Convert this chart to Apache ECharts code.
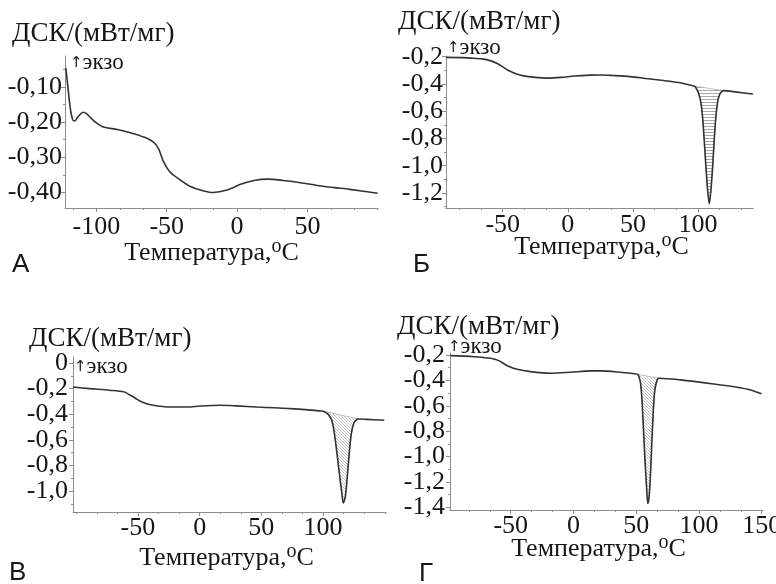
<!DOCTYPE html>
<html><head><meta charset="utf-8">
<script src="https://cdn.jsdelivr.net/npm/echarts@6/dist/echarts.min.js"></script>
<style>html,body{margin:0;padding:0;background:#fff}#c{width:776px;height:584px}</style>
</head><body><div id="c"></div>
<script>
// ---------- Panel А ----------
const tempA = [-121.8, -121.2, -120.0, -118.7, -117.5, -116.2, -115.2, -113.5, -111.0, -109.3, -107.0, -104.5, -100.0, -95.0, -85.0, -74.0, -64.0, -58.5, -55.5, -52.5, -48.0, -40.5, -33.5, -26.0, -17.0, -7.0, 3.0, 12.0, 22.0, 33.0, 45.0, 57.0, 69.0, 80.0, 100.0];
const dscA  = [-0.046, -0.065, -0.109, -0.156, -0.184, -0.196, -0.196, -0.187, -0.176, -0.172, -0.176, -0.186, -0.202, -0.214, -0.221, -0.232, -0.246, -0.260, -0.278, -0.310, -0.340, -0.364, -0.382, -0.393, -0.400, -0.393, -0.376, -0.366, -0.362, -0.366, -0.372, -0.380, -0.386, -0.391, -0.402];
const xTicksA = [-100, -50, 0, 50];
const yTicksA = [-0.10, -0.20, -0.30, -0.40];
const xRangeA = [-122.3, 100.2];
const yRangeA = [-0.444, -0.012];

// ---------- Panel Б ----------
const tempB = [-93.5, -80, -72.6, -65, -59.8, -54.6, -50, -46, -40, -34, -25, -16, -5, 5, 17, 25, 35, 48, 60, 73.5, 85, 94, 96.5, 97.9, 100.5, 102.3, 103.5, 104.8, 106.1, 107.4, 108.7, 110.0, 111.3, 112.5, 113.8, 115.4, 117.2, 119.6, 130, 142.2];
const dscB  = [-0.205, -0.207, -0.212, -0.218, -0.229, -0.248, -0.275, -0.300, -0.325, -0.341, -0.352, -0.357, -0.352, -0.342, -0.335, -0.334, -0.338, -0.346, -0.360, -0.375, -0.390, -0.408, -0.4145, -0.420, -0.468, -0.541, -0.639, -0.810, -1.005, -1.176, -1.278, -1.176, -1.005, -0.810, -0.639, -0.517, -0.468, -0.449, -0.460, -0.474];
const peakB = [96.5, 119.6];
const xTicksB = [-50, 0, 50, 100];
const yTicksB = [-0.2, -0.4, -0.6, -0.8, -1.0, -1.2];
const xRangeB = [-93.6, 142.3];
const yRangeB = [-1.31, -0.195];

// ---------- Panel В ----------
const tempV = [-102.5, -89, -73, -61, -56.5, -52, -48.4, -43, -37.6, -30, -24, -10, 0.4, 16.7, 30, 46.5, 60, 73.6, 88, 98, 100.2, 104.2, 107, 108.8, 111, 112.9, 115.1, 116.4, 118, 119.6, 121.2, 122.9, 125, 127.2, 128.5, 135, 149.6];
const dscV  = [-0.1875, -0.200, -0.213, -0.227, -0.250, -0.275, -0.297, -0.318, -0.330, -0.340, -0.344, -0.344, -0.336, -0.330, -0.335, -0.344, -0.350, -0.356, -0.366, -0.375, -0.377, -0.401, -0.448, -0.526, -0.682, -0.838, -1.008, -1.094, -1.047, -0.891, -0.708, -0.552, -0.469, -0.442, -0.437, -0.440, -0.447];
const peakV = [100.2, 128.5];
const xTicksV = [-50, 0, 50, 100];
const yTicksV = [0, -0.2, -0.4, -0.6, -0.8, -1.0];
const xRangeV = [-102.6, 151];
const yRangeV = [-1.164, 0.047];

// ---------- Panel Г ----------
const tempG = [-98.2, -79.4, -66.1, -59.5, -52.8, -44.9, -34.3, -18.3, -2.4, 13.6, 21.5, 37.5, 49.5, 50.8, 52.0, 53.4, 54.4, 55.5, 56.8, 58.2, 59.2, 60.3, 61.4, 62.4, 63.5, 64.8, 66.7, 68.0, 85.3, 111.8, 130.4, 141.0, 149.8];
const dscG  = [-0.205, -0.213, -0.226, -0.244, -0.284, -0.312, -0.331, -0.344, -0.336, -0.325, -0.325, -0.336, -0.349, -0.351, -0.365, -0.422, -0.527, -0.736, -0.999, -1.235, -1.371, -1.313, -1.129, -0.894, -0.658, -0.475, -0.396, -0.383, -0.396, -0.428, -0.454, -0.475, -0.506];
const peakG = [50.8, 68.0];
const xTicksG = [-50, 0, 50, 100, 150];
const yTicksG = [-0.2, -0.4, -0.6, -0.8, -1.0, -1.2, -1.4];
const xRangeG = [-98.4, 151];
const yRangeG = [-1.422, -0.184];

const yTitle = 'ДСК/(мВт/мг)';
const xTitle = 'Температура,';
const exo = 'экзо';
const letters = ['А', 'Б', 'В', 'Г'];

// ---------- helpers ----------
const SERIF = '"Liberation Serif", "Times New Roman", serif';
const AX = '#8c8c8c';
const INK = '#161616';
function hatch(kind) {
  const c = document.createElement('canvas');
  const ctx = c.getContext('2d');
  if (kind === 'h') {
    c.width = 4; c.height = 3;
    ctx.fillStyle = '#fff'; ctx.fillRect(0, 0, 4, 3);
    ctx.strokeStyle = '#a8a8a8'; ctx.lineWidth = 1;
    ctx.beginPath(); ctx.moveTo(0, 0.5); ctx.lineTo(4, 0.5); ctx.stroke();
  } else {
    c.width = 3; c.height = 3;
    ctx.fillStyle = '#fff'; ctx.fillRect(0, 0, 3, 3);
    ctx.strokeStyle = '#b4b4b4'; ctx.lineWidth = 0.8;
    ctx.beginPath();
    ctx.moveTo(-1, -1); ctx.lineTo(4, 4);
    ctx.moveTo(-1, 2); ctx.lineTo(1, 4);
    ctx.moveTo(2, -1); ctx.lineTo(4, 1);
    ctx.stroke();
  }
  return { image: c, repeat: 'repeat' };
}
function minorVals(range, step) {
  const out = [];
  const start = Math.ceil(range[0] / step - 1e-9);
  for (let k = start; k * step <= range[1] + 1e-9; k++) out.push(+(k * step).toFixed(6));
  return out;
}
const fmtX = v => String(Math.round(v));
const fmtY1 = v => (Math.abs(v) < 1e-9 ? '0' : v.toFixed(1).replace('.', ','));
const fmtY2 = v => v.toFixed(2).replace('.', ',');

const panels = [
  { t: tempA, v: dscA, peak: null, xr: xRangeA, yr: yRangeA, xt: xTicksA, yt: yTicksA, fy: fmtY2, ystep: 0.05,
    grid: { left: 65, top: 56, width: 313, height: 152 }, xm: 6, ym: 3 },
  { t: tempB, v: dscB, peak: peakB, pat: 'h', xr: xRangeB, yr: yRangeB, xt: xTicksB, yt: yTicksB, fy: fmtY1, ystep: 0.1,
    grid: { left: 446, top: 56, width: 307, height: 152 }, xm: 4, ym: 3 },
  { t: tempV, v: dscV, peak: peakV, pat: 'd', xr: xRangeV, yr: yRangeV, xt: xTicksV, yt: yTicksV, fy: fmtY1, ystep: 0.1,
    grid: { left: 73, top: 357, width: 313, height: 155 }, xm: 3, ym: 5 },
  { t: tempG, v: dscG, peak: peakG, pat: 'd', xr: xRangeG, yr: yRangeG, xt: xTicksG, yt: yTicksG, fy: fmtY1, ystep: 0.1,
    grid: { left: 450, top: 353, width: 313, height: 157 }, xm: 3, ym: 5 }
];

const grids = [], xAxes = [], yAxes = [], series = [];
panels.forEach((p, i) => {
  grids.push(Object.assign({ outerBoundsMode: 'none', containLabel: false }, p.grid));
  const labelStyle = { fontFamily: SERIF, fontSize: 26, lineHeight: 20, color: INK,
    showMinLabel: true, showMaxLabel: true, hideOverlap: false };
  // y labels are split over two coincident axes so neighbouring labels never collide in the overlap check
  const yEven = p.yt.filter((_, k) => k % 2 === 0);
  const yOdd = p.yt.filter((_, k) => k % 2 === 1);
  xAxes.push({
    type: 'value', gridIndex: i, min: p.xr[0], max: p.xr[1], position: 'bottom',
    axisLine: { show: true, onZero: false, lineStyle: { color: AX, width: 1 } },
    axisTick: { show: true, customValues: p.xt, length: 4, lineStyle: { color: AX } },
    axisLabel: Object.assign({ customValues: p.xt, margin: p.xm + 3, formatter: fmtX }, labelStyle),
    splitLine: { show: false }
  });
  xAxes.push({
    type: 'value', gridIndex: i, min: p.xr[0], max: p.xr[1], position: 'bottom',
    axisLine: { show: false, onZero: false },
    axisTick: { show: true, customValues: minorVals(p.xr, 50 / 3), length: 2, lineStyle: { color: AX } },
    axisLabel: { show: false }, splitLine: { show: false }
  });
  yAxes.push({
    type: 'value', gridIndex: i, min: p.yr[0], max: p.yr[1], position: 'left',
    axisLine: { show: true, onZero: false, lineStyle: { color: AX, width: 1 } },
    axisTick: { show: true, customValues: p.yt, length: 4, lineStyle: { color: AX } },
    axisLabel: Object.assign({ customValues: yEven, margin: p.ym, formatter: p.fy }, labelStyle),
    splitLine: { show: false }
  });
  yAxes.push({
    type: 'value', gridIndex: i, min: p.yr[0], max: p.yr[1], position: 'left',
    axisLine: { show: false, onZero: false },
    axisTick: { show: true, customValues: minorVals(p.yr, p.ystep), length: 2, lineStyle: { color: AX } },
    axisLabel: Object.assign({ customValues: yOdd, margin: p.ym, formatter: p.fy }, labelStyle),
    splitLine: { show: false }
  });
  if (p.peak) {
    const poly = [];
    p.t.forEach((t, k) => { if (t >= p.peak[0] - 1e-9 && t <= p.peak[1] + 1e-9) poly.push([t, p.v[k]]); });
    const fill = hatch(p.pat);
    series.push({
      type: 'custom', coordinateSystem: 'cartesian2d', xAxisIndex: 2 * i, yAxisIndex: 2 * i,
      silent: true, z: 1, data: [poly[0]],
      renderItem: (params, api) => ({
        type: 'polygon',
        shape: { points: poly.map(q => api.coord(q)) },
        style: { fill: fill, stroke: '#9a9a9a', lineWidth: 0.6 }
      })
    });
  }
  series.push({
    type: 'line', xAxisIndex: 2 * i, yAxisIndex: 2 * i, z: 3,
    data: p.t.map((t, k) => [t, p.v[k]]),
    showSymbol: false, smooth: 0.3,
    lineStyle: { color: '#333', width: 1.6 }
  });
});

const titleFont = '27px ' + SERIF;
function axisTitle(cx, cy) {
  return {
    type: 'text', x: cx, y: cy, silent: true,
    style: {
      text: '{t|' + xTitle + '}{s|o}{t|C}', align: 'center', verticalAlign: 'middle',
      rich: {
        t: { fontFamily: SERIF, fontSize: 26, lineHeight: 32, verticalAlign: 'middle', fill: INK },
        s: { fontFamily: SERIF, fontSize: 20, lineHeight: 19, verticalAlign: 'top', fill: INK }
      }
    }
  };
}
function exoText(x, cy) {
  return {
    type: 'text', x: x, y: cy, silent: true,
    style: {
      text: '{a|↑}{b|' + exo + '}', align: 'left', verticalAlign: 'middle',
      rich: {
        a: { fontFamily: '"DejaVu Sans", sans-serif', fontSize: 15, lineHeight: 24, verticalAlign: 'middle', fill: INK },
        b: { fontFamily: SERIF, fontSize: 23, lineHeight: 24, verticalAlign: 'middle', fill: INK }
      }
    }
  };
}
function plain(text, x, cy, font) {
  return { type: 'text', x: x, y: cy, silent: true,
    style: { text: text, font: font, fill: INK, align: 'left', verticalAlign: 'middle' } };
}
const LET = '26px "Liberation Sans", Arial, sans-serif';
const graphic = [
  plain(yTitle, 12, 34, titleFont), plain(yTitle, 398, 22, titleFont),
  plain(yTitle, 29, 339, titleFont), plain(yTitle, 397, 327, titleFont),
  exoText(70, 63), exoText(447, 48), exoText(74, 367), exoText(448, 347),
  axisTitle(211.5, 253), axisTitle(601.5, 247), axisTitle(226.5, 558), axisTitle(598.5, 549),
  plain(letters[0], 12, 265, LET), plain(letters[1], 413, 265, LET),
  plain(letters[2], 9, 573, LET), plain(letters[3], 419, 574, LET)
];

const chart = echarts.init(document.getElementById('c'), null, { renderer: 'canvas' });
chart.setOption({
  backgroundColor: '#ffffff', animation: false,
  grid: grids, xAxis: xAxes, yAxis: yAxes, series: series, graphic: graphic
});
</script>
</body></html>
